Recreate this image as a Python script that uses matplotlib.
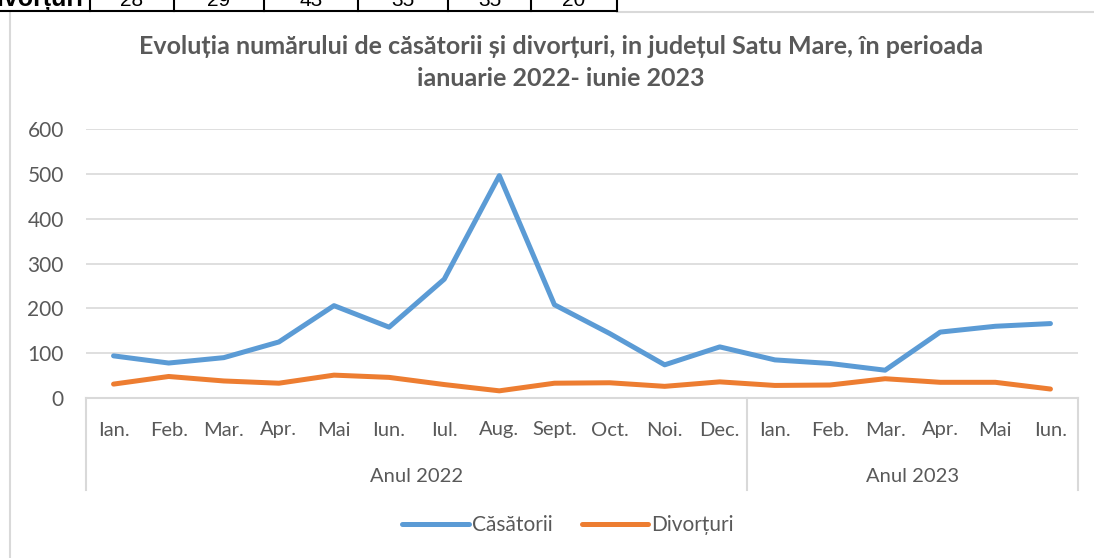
import matplotlib
matplotlib.use('Agg')
import matplotlib.pyplot as plt
from matplotlib.lines import Line2D

plt.rcParams['font.family'] = ['Lato', 'DejaVu Sans']

# data
months = ['Ian.', 'Feb.', 'Mar.', 'Apr.', 'Mai', 'Iun.', 'Iul.', 'Aug.', 'Sept.', 'Oct.', 'Noi.', 'Dec.',
          'Ian.', 'Feb.', 'Mar.', 'Apr.', 'Mai', 'Iun.']
years = ['Anul 2022', 'Anul 2023']
year_len = [12, 6]
casatorii = [94, 78, 90, 125, 206, 158, 265, 496, 208, 144, 74, 114, 85, 77, 62, 147, 160, 166]
divorturi = [31, 48, 38, 33, 51, 46, 30, 16, 33, 34, 26, 36, 28, 29, 43, 35, 35, 20]
table_row = ['28', '29', '43', '35', '35', '20']

W, H = 1094, 558
gray = '#595959'
grid = '#d9d9d9'
blue = '#5b9bd5'
orange = '#ed7d31'

fig = plt.figure(figsize=(W / 100, H / 100), dpi=100)

def fx(px):
    return px / W

def fy(py):
    return 1 - py / H

# plot area
x0, x1, ytop, ybot = 86, 1078, 129, 398
ax = fig.add_axes([fx(x0), fy(ybot), fx(x1) - fx(x0), fy(ytop) - fy(ybot)])
n = len(months)
xs = list(range(n))
ax.plot(xs, casatorii, color=blue, lw=3.6, solid_capstyle='round', solid_joinstyle='round', zorder=3)
ax.plot(xs, divorturi, color=orange, lw=3.6, solid_capstyle='round', solid_joinstyle='round', zorder=3)
ax.set_xlim(-0.5, n - 0.5)
ax.set_ylim(0, 600)
ax.set_yticks(range(0, 601, 100))
ax.yaxis.grid(True, color=grid, lw=1.2)
ax.set_axisbelow(True)
for s in ax.spines.values():
    s.set_visible(False)
ax.tick_params(axis='y', length=0, pad=16, labelsize=15, labelcolor=gray)
ax.set_xticks([])

# multi-level category axis
line_kw = dict(color=grid, lw=1.5, transform=fig.transFigure)
fig.add_artist(Line2D([fx(x0), fx(x1)], [fy(ybot), fy(ybot)], **line_kw))
px_per = (x1 - x0) / n
start = 0
bounds = [x0]
for yr, ln in zip(years, year_len):
    cx = x0 + (start + ln / 2) * px_per
    fig.text(fx(cx), fy(476), yr, ha='center', va='center', fontsize=14.5, color=gray)
    start += ln
    bounds.append(x0 + start * px_per)
for b in bounds:
    fig.add_artist(Line2D([fx(b), fx(b)], [fy(ybot), fy(490)], **line_kw))
for i, m in enumerate(months):
    fig.text(fx(x0 + (i + 0.5) * px_per), fy(430), m, ha='center', va='center', fontsize=14.5, color=gray)

# title
fig.text(fx(561), fy(47), 'Evoluția numărului de căsătorii și divorțuri, in județul Satu Mare, în perioada',
         ha='center', va='center', fontsize=18, fontweight='bold', color=gray)
fig.text(fx(561), fy(78), 'ianuarie 2022- iunie 2023',
         ha='center', va='center', fontsize=18, fontweight='bold', color=gray)

# legend
fig.legend(handles=[Line2D([], [], color=blue, lw=3.6, solid_capstyle='round'),
                    Line2D([], [], color=orange, lw=3.6, solid_capstyle='round')],
           labels=['Căsătorii', 'Divorțuri'], loc='center', bbox_to_anchor=(fx(568), fy(525)),
           ncol=2, frameon=False, fontsize=15, labelcolor=gray, handlelength=3.2,
           handletextpad=0.15, columnspacing=1.4)

# chart border
fig.add_artist(Line2D([fx(10), fx(10)], [fy(12), 0], color=grid, lw=1.5, transform=fig.transFigure))
fig.add_artist(Line2D([fx(617), 1], [fy(11.5), fy(11.5)], color=grid, lw=1.5, transform=fig.transFigure))

# cropped table row at the top
fig.add_artist(Line2D([0, fx(617)], [fy(11), fy(11)], color='black', lw=1.5, transform=fig.transFigure))
cells = [90, 174, 264, 358, 448, 531, 617]
for c in cells:
    fig.add_artist(Line2D([fx(c), fx(c)], [fy(11), 1], color='black', lw=1.5, transform=fig.transFigure))
fig.text(fx(83), fy(0), 'Divorțuri', ha='right', va='center', fontsize=18, fontweight='bold',
         color='black', family=['Liberation Sans', 'DejaVu Sans'])
for i, v in enumerate(table_row):
    cx = (cells[i] + cells[i + 1]) / 2
    fig.text(fx(cx), fy(0), v, ha='center', va='center', fontsize=15, color='black',
             family=['Liberation Sans', 'DejaVu Sans'])

fig.savefig('out.png', dpi=100)
plt.close(fig)
